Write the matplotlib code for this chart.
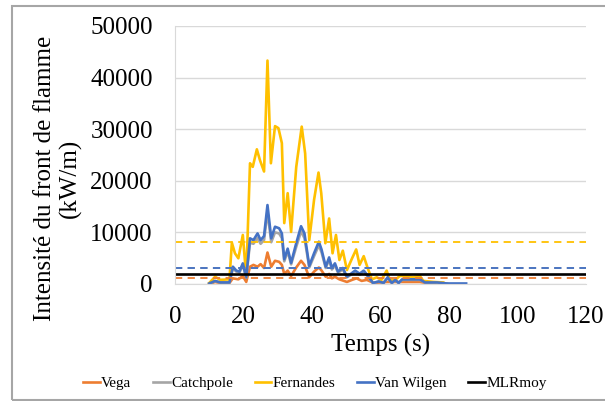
import matplotlib.pyplot as plt
from matplotlib.patches import Rectangle

plt.rcParams['font.family'] = ['Liberation Serif', 'DejaVu Serif']

# Fernandes
t_fern = [10, 11.7, 13.2, 15.9, 16.6, 17.5, 18.5, 19.8, 20.8, 21.9, 22.7, 23.9, 24.8, 26, 27, 28,
          29.2, 30.2, 31.2, 31.9, 32.9, 33.9, 35.4, 37, 38, 39.2, 40.6, 41.9, 42.7, 43.9, 45, 46, 47,
          48, 49, 50.2, 51.7, 52.9, 53.9, 55.1, 56.2, 57.5, 58.9, 60.3, 61.8, 62.7, 64.2, 65.6, 68,
          69.5, 71.5, 72.5, 75.5, 78.3]
fern = [200, 1400, 800, 900, 8000, 5950, 4980, 9500, 1400, 23400, 22700, 26100, 24000, 21800, 43300,
        23400, 30600, 30200, 27300, 11800, 17600, 10100, 22700, 30500, 25300, 8500, 16300, 21600,
        17600, 7900, 12700, 5950, 9500, 4650, 6460, 2700, 4980, 6700, 3700, 5400, 3200, 900, 1300,
        800, 2600, 800, 700, 1550, 1550, 1300, 1550, 600, 400, 300]

# Van Wilgen
t_vw = [10, 11.7, 13.2, 15.9, 16.9, 17.9, 18.8, 19.8, 20.8, 21.9, 22.9, 24.1, 25, 26, 27, 28.1, 29.2,
        30.4, 31.2, 31.9, 32.9, 33.9, 35.4, 36.8, 37.8, 39.2, 40.6, 42, 42.8, 44, 45, 45.8, 46.7,
        47.6, 49, 50.2, 51.4, 52.6, 53.9, 55.1, 56.5, 57.8, 59.5, 60.9, 62.1, 63.3, 64.3, 65.3, 66.3,
        68.7, 71.5, 73, 76.5, 79.4, 85]
vw = [100, 600, 300, 300, 3350, 2600, 2400, 4000, 1300, 8850, 8500, 9800, 8500, 9300, 15300, 8850,
      11100, 10800, 9800, 4800, 6850, 4100, 7900, 11200, 9800, 3500, 5950, 8200, 6650, 3350, 5150,
      3100, 4000, 2400, 3100, 1400, 2000, 2600, 2000, 2600, 1400, 200, 500, 200, 1300, 200, 800,
      200, 900, 900, 900, 300, 300, 100, 100]

# Catchpole
t_cp = [10, 11.7, 13.2, 15.9, 16.9, 17.9, 18.8, 19.8, 20.8, 21.9, 22.9, 24.1, 25, 26, 27, 28.1, 29.2,
        30.4, 31.2, 31.9, 32.9, 33.9, 35.4, 36.8, 37.8, 39.2, 40.6, 42, 42.8, 44, 45, 45.8, 46.7,
        47.6, 49, 50.2, 51.4, 52.6, 53.9, 55.1, 56.5, 57.8, 59.5, 60.9, 62.1, 63.3, 64.3, 65.3, 66.3,
        68.7, 71.5, 73, 76.5, 79.4]
cp = [100, 550, 300, 300, 3000, 2400, 2200, 3700, 1200, 8000, 7800, 8900, 7800, 8500, 14000, 8100,
      10000, 9800, 8900, 4400, 6300, 3800, 7200, 10200, 8900, 3200, 5400, 7500, 6100, 3100, 4700,
      2800, 3600, 2200, 2800, 1300, 1800, 2400, 1800, 2400, 1300, 200, 450, 200, 1200, 200, 700,
      200, 800, 800, 800, 300, 300, 100]

# Vega
t_vega = [10, 11.7, 13.2, 15.9, 16.9, 18.5, 19.8, 20.8, 21.9, 22.9, 24.1, 25, 26, 27, 28.1, 29.2,
          30.4, 31.2, 31.9, 32.9, 33.9, 35.4, 36.8, 37.8, 39.2, 40.6, 42, 42.8, 44, 45, 45.8, 46.7,
          48, 50.2, 51.7, 53, 54.5, 56, 58, 61.8, 65.6, 71.5, 73.4, 76]
vega = [0, 400, 200, 200, 1100, 900, 1550, 400, 3350, 3700, 3350, 3850, 3100, 6100, 3350, 4500, 4300,
        3700, 1950, 2600, 1550, 3200, 4500, 3700, 1300, 2400, 3200, 2600, 1400, 1950, 1100, 1400, 900,
        400, 800, 1100, 600, 800, 200, 400, 400, 400, 200, 100]

# moyennes
vega_moy = 1150
cp_moy = 3050
fern_moy = 8200
vw_moy = 3160
mlr_moy = 1950

c_vega = '#ED7D31'
c_cp = '#A5A5A5'
c_fern = '#FFC000'
c_vw = '#4472C4'

fig = plt.figure(figsize=(6.05, 4.01), dpi=100)
ax = fig.add_axes([175/605, 1-284/401, 411/605, 258/401])

ax.plot(t_vega, vega, color=c_vega, lw=1.9, label='Vega')
ax.plot(t_cp, cp, color=c_cp, lw=1.9, label='Catchpole')
ax.plot(t_fern, fern, color=c_fern, lw=1.9, label='Fernandes')
ax.plot(t_vw, vw, color=c_vw, lw=1.9, label='Van Wilgen')

ax.axhline(vega_moy, color=c_vega, lw=1.3, ls=(0, (4, 3)))
ax.axhline(cp_moy, color=c_cp, lw=1.3, ls=(0, (4, 3)))
ax.axhline(fern_moy, color=c_fern, lw=1.3, ls=(0, (4, 3)))
ax.axhline(vw_moy, color=c_vw, lw=1.3, ls=(0, (4, 3)))
ax.axhline(mlr_moy, color='black', lw=1.9, label='MLRmoy')

ax.set_xlim(0, 120)
ax.set_ylim(0, 50000)
ax.set_xticks(range(0, 121, 20))
ax.set_yticks(range(0, 50001, 10000))
ax.grid(axis='y', color='#d9d9d9', lw=1)
ax.set_axisbelow(True)
for s in ['top', 'right']:
    ax.spines[s].set_visible(False)
for s in ['left', 'bottom']:
    ax.spines[s].set_color('#d9d9d9')
ax.tick_params(length=0, labelsize=18, pad=16)

ax.set_xlabel('Temps (s)', fontsize=18, labelpad=4)
fig.text(58/605, 1-178/401, 'Intensité du front de flamme\n(kW/m)', rotation=90,
         ha='center', va='center', fontsize=18, multialignment='center')

fig.legend(loc='center', bbox_to_anchor=(315/605, 1-383/401), ncol=5, frameon=False,
           fontsize=11, handlelength=1.1, handletextpad=0.1, columnspacing=1.4)

fig.patches.append(Rectangle((12/605, 1/401), 1.0, 394/401, transform=fig.transFigure,
                             fill=False, edgecolor='#a6a6a6', lw=1.5))

fig.savefig('out.png', dpi=100)
